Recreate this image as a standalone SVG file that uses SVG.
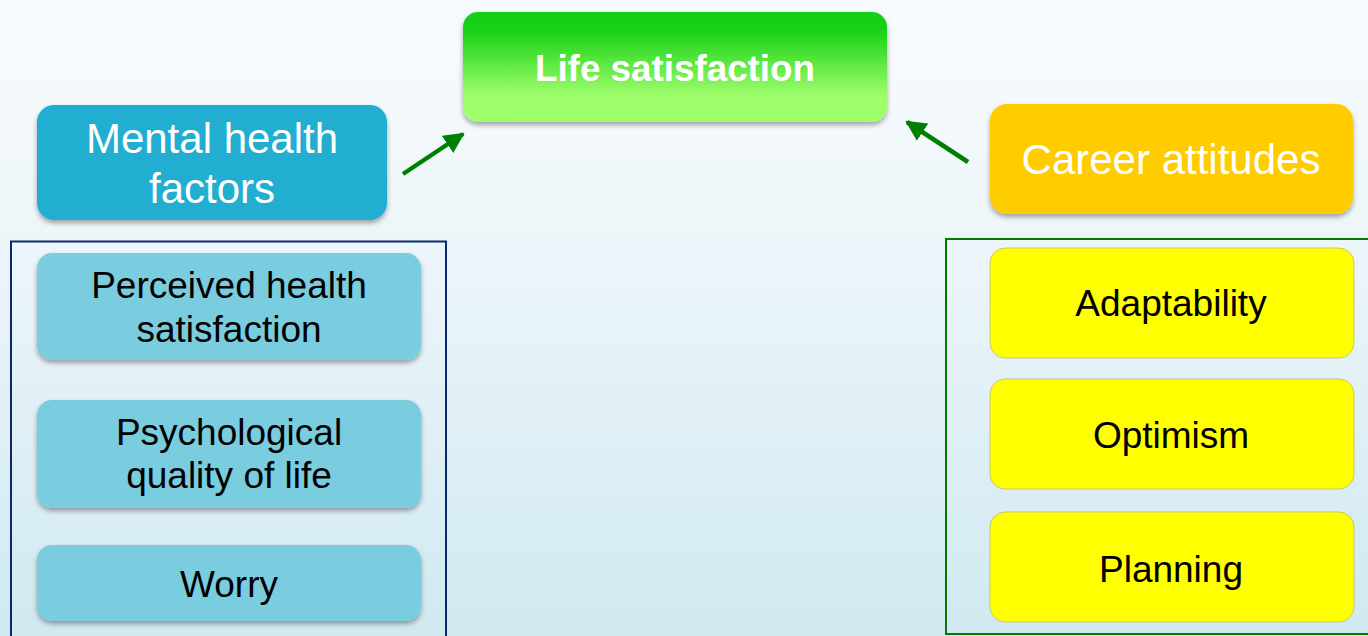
<svg xmlns="http://www.w3.org/2000/svg" width="1368" height="636" viewBox="0 0 1368 636">
<defs>
<linearGradient id="bg" x1="0" y1="0" x2="0" y2="1">
<stop offset="0" stop-color="#f8fbfd"/>
<stop offset="0.35" stop-color="#eef6fa"/>
<stop offset="1" stop-color="#d0e9f1"/>
</linearGradient>
<linearGradient id="green" x1="0" y1="0" x2="0" y2="1">
<stop offset="0" stop-color="#12cf12"/>
<stop offset="0.15" stop-color="#14d014"/>
<stop offset="0.75" stop-color="#9cfd6a"/>
<stop offset="1" stop-color="#a0fe6c"/>
</linearGradient>
<filter id="sh" x="-10%" y="-10%" width="120%" height="130%">
<feGaussianBlur in="SourceAlpha" stdDeviation="2.5"/>
<feOffset dx="0" dy="3" result="b"/>
<feComponentTransfer><feFuncA type="linear" slope="0.35"/></feComponentTransfer>
<feMerge><feMergeNode/><feMergeNode in="SourceGraphic"/></feMerge>
</filter>
<marker id="ah" viewBox="0 0 10 10" refX="9" refY="5" markerWidth="4.6" markerHeight="4.6" orient="auto" markerUnits="strokeWidth">
<path d="M0,0 L10,5 L0,10 z" fill="#008000"/>
</marker>
</defs>
<style>
.t{font-family:"Liberation Sans",Arial,sans-serif;text-anchor:middle}
.w{fill:#ffffff}
.k{fill:#000000}
.sub{fill:#7accdf;filter:url(#sh)}
.yel{fill:#ffff00;stroke:#c8c870;stroke-width:1}
.conn{stroke:#008000;stroke-width:4.5;fill:none;marker-end:url(#ah)}
</style>
<rect x="0" y="0" width="1368" height="636" fill="url(#bg)"/>

<g id="group-mental">
<rect x="11" y="241.5" width="435" height="400" fill="none" stroke="#0a2870" stroke-width="2"/>
</g>
<g id="group-career">
<rect x="946" y="239" width="430" height="395" fill="none" stroke="#007a00" stroke-width="2"/>
</g>

<g id="life-satisfaction">
<rect x="463" y="12" width="424" height="110" rx="15" fill="url(#green)" filter="url(#sh)"/>
<text class="t w" x="675" y="81" font-size="36.8" font-weight="bold">Life satisfaction</text>
</g>

<g id="mental-health">
<rect x="37" y="105" width="350" height="115" rx="17" fill="#22aed0" filter="url(#sh)"/>
<text class="t w" x="212" y="153" font-size="42">Mental health</text>
<text class="t w" x="212" y="203" font-size="42">factors</text>
</g>

<g id="career-attitudes">
<rect x="990" y="104" width="363" height="110" rx="17" fill="#ffcc00" filter="url(#sh)"/>
<text class="t w" x="1171" y="174" font-size="42">Career attitudes</text>
</g>

<g id="perceived-health">
<rect class="sub" x="37" y="253" width="384" height="107" rx="15"/>
<text class="t k" x="229" y="298" font-size="37">Perceived health</text>
<text class="t k" x="229" y="342" font-size="37">satisfaction</text>
</g>
<g id="psychological">
<rect class="sub" x="37" y="400" width="384" height="108" rx="15"/>
<text class="t k" x="229" y="445" font-size="37">Psychological</text>
<text class="t k" x="229" y="488" font-size="37">quality of life</text>
</g>
<g id="worry">
<rect class="sub" x="37" y="545" width="384" height="76" rx="15"/>
<text class="t k" x="229" y="597" font-size="37">Worry</text>
</g>

<g id="adaptability">
<rect class="yel" x="990" y="248" width="364" height="110" rx="15"/>
<text class="t k" x="1171" y="316" font-size="37">Adaptability</text>
</g>
<g id="optimism">
<rect class="yel" x="990" y="379" width="364" height="110" rx="15"/>
<text class="t k" x="1171" y="448" font-size="37">Optimism</text>
</g>
<g id="planning">
<rect class="yel" x="990" y="512" width="364" height="110" rx="15"/>
<text class="t k" x="1171" y="582" font-size="37">Planning</text>
</g>

<g id="connectors">
<line class="conn" x1="403" y1="174" x2="463" y2="134"/>
<line class="conn" x1="968" y1="162" x2="907" y2="122"/>
</g>
</svg>
